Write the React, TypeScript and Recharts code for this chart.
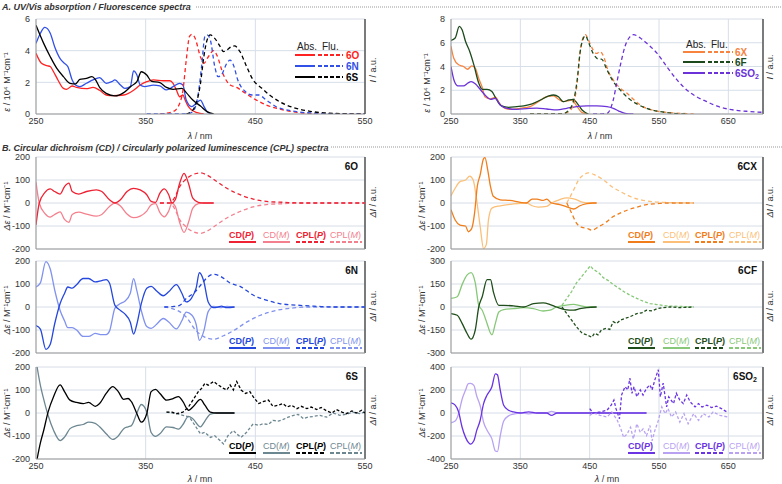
import React from 'react';
import { LineChart, Line, XAxis, YAxis, CartesianGrid, ReferenceLine } from 'recharts';

// ---------- A. UV/Vis absorption / fluorescence (left) ----------
const ABS_6O = [[250,3.83],[255,3.2],[260,3.05],[263,3.0],[266,2.67],[270,2.15],[275,1.62],[278,1.56],[283,1.77],[287,1.68],[296,1.6],[302,1.68],[308,1.5],[314,1.2],[320,1.16],[330,1.2],[339,1.5],[345,1.83],[351,2.04],[357,2.15],[366,2.1],[372,2.1],[375,1.94],[378,1.52],[381,1.09],[384,1.2],[386,0.88],[389,0.46],[392,0.25],[397,0.08],[403,0]];
const ABS_6N = [[250,4.46],[254,5.1],[258,5.47],[263,5.1],[267,4.25],[272,3.5],[276,3.2],[279,3.0],[283,2.15],[286,1.83],[290,1.73],[296,1.94],[302,2.15],[308,2.3],[314,1.94],[319,2.04],[322,2.15],[327,1.83],[331,1.62],[336,1.73],[339,2.72],[342,2.46],[345,1.83],[349,1.73],[357,1.83],[363,1.77],[369,1.52],[375,1.73],[381,1.94],[384,1.83],[387,0.88],[392,0.46],[396,0.67],[400,0.88],[403,0.5],[406,0.15],[410,0]];
const ABS_6S = [[250,5.6],[257,4.46],[263,3.62],[269,2.88],[275,2.36],[281,1.94],[286,1.9],[290,2.19],[296,2.25],[301,2.36],[304,2.19],[308,1.68],[314,1.3],[322,1.14],[330,1.35],[337,1.77],[342,2.04],[346,2.67],[351,2.46],[355,2.08],[363,1.98],[369,1.68],[375,1.56],[383,1.62],[387,1.35],[393,0.88],[400,0.5],[406,0.15],[412,0]];
const FLU_6O = [[363,0],[375,0.15],[381,0.67],[384,1.5],[387,3.4],[390,4.9],[392,5.03],[395,4.8],[400,3.6],[403,3.2],[407,3.6],[412,4.0],[415,3.7],[421,2.46],[427,1.83],[433,1.68],[439,1.4],[448,1.0],[460,0.57],[476,0.25],[491,0.08],[506,0.02],[550,0]];
const FLU_6N = [[351,0],[387,0],[393,0.15],[398,1.3],[401,3.0],[404,4.9],[406,5.0],[409,4.67],[413,3.0],[416,2.36],[419,2.46],[424,3.2],[427,3.4],[430,3.1],[434,2.15],[441,1.41],[447,1.2],[453,1.2],[460,0.88],[469,0.46],[482,0.21],[497,0.08],[521,0.02],[550,0]];
const FLU_6S = [[387,0],[393,0.25],[400,1.94],[403,3.6],[406,4.67],[409,5.0],[413,4.78],[418,4.25],[421,3.94],[424,4.04],[428,4.25],[431,4.3],[436,3.94],[442,3.0],[448,2.15],[456,1.62],[463,1.2],[472,0.78],[485,0.4],[500,0.17],[521,0.04],[550,0]];

// ---------- A. (right) ----------
const ABS_6X = [[250,5.7],[254,4.7],[261,4.14],[268,4.0],[274,3.77],[280,4.06],[285,3.86],[290,3.0],[295,2.25],[299,1.46],[307,1.27],[314,1.41],[320,0.9],[328,0.48],[338,0.39],[350,0.48],[364,0.62],[376,1.04],[388,1.46],[398,1.52],[405,1.24],[412,1.04],[420,1.13],[424,1.18],[432,0.62],[439,0.11],[448,0]];
const ABS_6F = [[250,6.2],[256,6.4],[262,7.38],[266,7.1],[271,6.1],[277,5.27],[283,4.14],[290,2.6],[295,2.08],[302,2.08],[309,1.89],[316,1.18],[323,0.68],[333,0.56],[345,0.62],[355,0.68],[367,0.85],[379,1.18],[391,1.52],[398,1.6],[405,1.46],[412,1.04],[420,1.18],[426,1.24],[432,0.9],[439,0.34],[448,0]];
const ABS_6SO2 = [[250,4.0],[255,2.73],[260,2.37],[268,2.37],[274,2.59],[279,2.73],[285,2.54],[292,2.08],[299,1.6],[307,1.24],[314,1.32],[321,0.76],[331,0.48],[345,0.39],[359,0.45],[374,0.5],[388,0.42],[403,0.34],[417,0.48],[431,0.62],[446,0.68],[460,0.68],[475,0.62],[484,0.48],[492,0.25],[501,0.06],[513,0]];
const FLU_6X = [[364,0],[408,0],[420,0.2],[427,0.9],[432,2.6],[436,5.1],[441,6.5],[444,6.68],[448,6.25],[455,5.4],[460,5.1],[465,5.27],[470,4.85],[477,3.58],[484,2.87],[494,2.17],[504,1.75],[513,1.24],[523,0.76],[532,0.48],[547,0.25],[566,0.11],[590,0.03],[600,0]];
const FLU_6F = [[364,0],[410,0],[420,0.34],[427,1.18],[432,2.87],[436,5.1],[441,6.4],[444,6.6],[448,6.1],[455,5.1],[463,4.62],[467,4.62],[475,3.72],[484,2.73],[494,2.03],[506,1.32],[518,0.85],[532,0.48],[552,0.2],[571,0.06],[590,0]];
const FLU_6SO2 = [[455,0],[475,0.06],[484,1.18],[489,2.6],[496,4.56],[501,5.7],[508,6.5],[513,6.68],[523,6.4],[532,5.97],[547,5.13],[561,4.0],[576,2.87],[590,2.03],[604,1.46],[619,1.04],[633,0.68],[652,0.39],[676,0.23],[700,0.14]];

// ---------- B. CD / CPL (left) ----------
const CD_6O_P = [[250,-95],[253,0],[258,45],[263,61],[267,50],[272,39],[276,71],[280,86],[283,50],[289,39],[296,50],[305,57],[310,50],[317,14],[322,0],[327,14],[333,50],[339,64],[345,57],[351,36],[355,7],[359,3],[363,43],[367,61],[371,36],[374,0],[377,14],[381,86],[385,129],[389,86],[393,21],[398,3],[403,0],[412,0]];
const CD_6O_M = [[250,90],[253,0],[258,-45],[263,-61],[267,-50],[272,-39],[276,-71],[280,-84],[283,-50],[289,-40],[296,-48],[305,-57],[310,-50],[317,-15],[322,0],[327,-13],[333,-48],[339,-64],[345,-57],[351,-35],[355,-8],[359,-3],[363,-42],[367,-60],[371,-35],[374,0],[377,-14],[381,-85],[385,-128],[389,-85],[393,-22],[398,-3],[403,0],[412,0]];
const CPL_6O_P = [[363,0],[372,0],[377,29],[381,71],[386,100],[392,121],[400,131],[406,121],[415,93],[424,64],[436,36],[448,17],[460,7],[476,3],[491,0],[550,0]];
const CPL_6O_M = [[363,0],[372,0],[377,-30],[381,-72],[386,-100],[392,-122],[400,-132],[406,-122],[415,-94],[424,-65],[436,-37],[448,-17],[460,-7],[476,-3],[491,0],[550,0]];

const CD_6N_P = [[250,-81],[254,-96],[259,-184],[263,-162],[267,-74],[272,15],[276,59],[279,87],[283,82],[287,97],[293,124],[298,124],[304,109],[310,115],[314,119],[317,104],[322,7],[327,-15],[331,-30],[336,-66],[339,-118],[342,-74],[346,15],[351,82],[355,90],[360,70],[366,49],[371,66],[378,97],[383,60],[387,22],[392,40],[396,82],[399,149],[403,112],[407,22],[412,-3],[416,0],[419,4],[424,-3],[431,0]];
const CD_6N_M = [[250,87],[254,105],[259,197],[263,165],[267,75],[272,-15],[276,-60],[279,-90],[283,-90],[287,-100],[293,-128],[298,-128],[304,-115],[310,-120],[314,-120],[317,-105],[322,-5],[327,15],[331,25],[336,60],[339,123],[342,70],[346,-15],[351,-85],[355,-93],[360,-75],[366,-50],[371,-65],[378,-95],[383,-60],[387,-22],[392,-35],[396,-75],[399,-145],[403,-105],[407,-20],[412,3],[416,0],[419,-3],[424,3],[431,0]];
const CPL_6N_P = [[367,0],[375,2],[381,7],[387,37],[395,66],[401,100],[406,128],[412,142],[418,134],[427,104],[436,90],[448,52],[460,30],[472,15],[491,7],[506,3],[521,0],[550,0]];
const CPL_6N_M = [[367,0],[375,-8],[381,-20],[387,-44],[396,-103],[403,-129],[412,-140],[421,-125],[430,-103],[442,-66],[454,-37],[469,-15],[485,-4],[500,0],[550,0]];

const CD_6S_P = [[251,-200],[254,-130],[257,-76],[261,4],[266,71],[272,122],[276,93],[281,56],[287,46],[293,41],[298,46],[304,29],[308,41],[314,85],[320,115],[325,93],[330,59],[334,63],[337,49],[342,-3],[346,-40],[351,-3],[355,93],[359,103],[363,85],[369,56],[375,63],[380,71],[384,49],[389,12],[393,26],[400,59],[404,34],[409,4],[415,0],[431,0]];
const CD_6S_M = [[251,200],[254,120],[257,60],[261,-10],[266,-75],[272,-120],[276,-105],[281,-68],[287,-55],[293,-50],[298,-40],[304,-45],[308,-60],[314,-90],[320,-115],[325,-100],[330,-68],[334,-60],[337,-55],[342,0],[346,37],[351,5],[355,-85],[359,-102],[363,-90],[369,-60],[375,-63],[380,-70],[384,-50],[389,-15],[393,-25],[400,-60],[404,-35],[409,-5],[415,0],[431,0]];
const CPL_6S_P = [[369,4],[374,4],[378,-3],[384,4],[389,26],[393,56],[398,93],[401,107],[404,129],[407,121],[412,137],[416,122],[421,107],[424,100],[427,122],[430,100],[433,137],[437,100],[441,85],[445,93],[448,71],[453,41],[457,49],[462,56],[466,29],[471,34],[475,41],[479,26],[483,34],[488,19],[492,29],[497,19],[501,26],[506,15],[510,24],[515,9],[520,0],[524,15],[529,4],[533,-3],[538,9],[542,0],[547,12],[550,0]];
const CPL_6S_M = [[369,4],[378,-3],[384,-10],[390,-18],[396,-62],[400,-91],[404,-84],[409,-106],[413,-99],[418,-121],[421,-135],[425,-99],[430,-76],[433,-91],[437,-106],[442,-84],[448,-47],[453,-54],[457,-47],[462,-50],[466,-32],[471,-35],[475,-29],[480,-18],[485,-10],[489,-6],[494,-25],[498,-18],[503,-15],[509,-10],[515,-18],[521,0],[527,-10],[533,-6],[539,4],[545,-3],[550,4]];

// ---------- B. (right) ----------
const CD_6CX_P = [[250,-29],[256,-74],[263,-96],[271,-100],[275,-125],[280,-110],[284,-44],[288,74],[292,121],[297,193],[299,197],[303,143],[307,71],[311,29],[321,14],[335,11],[350,3],[359,0],[367,17],[374,17],[383,11],[388,17],[395,0],[407,-7],[417,-17],[427,-26],[436,-12],[446,-3],[455,0],[460,0]];
const CD_6CX_M = [[250,31],[256,64],[263,93],[271,100],[277,117],[282,100],[287,14],[292,-100],[297,-198],[301,-180],[304,-74],[309,-22],[321,-12],[340,-4],[359,0],[367,-12],[376,-18],[388,-15],[395,0],[407,15],[417,22],[427,18],[441,3],[451,0],[460,0]];
const CPL_6CX_P = [[417,0],[424,-44],[431,-88],[439,-106],[446,-110],[453,-118],[463,-103],[475,-81],[484,-59],[494,-44],[506,-29],[518,-18],[532,-7],[547,-3],[561,0],[600,0]];
const CPL_6CX_M = [[417,0],[427,57],[434,100],[441,121],[448,131],[458,121],[470,100],[482,71],[494,50],[508,29],[523,14],[537,7],[556,3],[600,0]];

const CD_6CF_P = [[250,-43],[259,-54],[266,-107],[273,-171],[279,-210],[285,-150],[290,0],[295,67],[302,179],[307,179],[311,101],[319,11],[326,11],[340,7],[355,0],[369,22],[383,27],[393,16],[402,0],[414,-17],[427,-21],[436,-11],[446,-4],[460,0]];
const CD_6CF_M = [[250,56],[259,67],[266,146],[273,208],[279,224],[285,157],[290,11],[295,-21],[302,-107],[307,-171],[309,-182],[314,-107],[319,-32],[326,-17],[340,-11],[355,-4],[369,-11],[383,-26],[393,-21],[402,0],[414,11],[427,17],[436,9],[446,0],[460,0]];
const CPL_6CF_P = [[410,0],[417,-43],[424,-86],[431,-129],[439,-171],[446,-182],[453,-197],[457,-171],[462,-182],[467,-150],[474,-139],[479,-146],[484,-96],[489,-107],[494,-86],[501,-75],[508,-64],[518,-43],[525,-39],[532,-21],[540,-26],[547,-11],[556,-4],[566,0],[580,-4],[600,0]];
const CPL_6CF_M = [[410,11],[417,56],[424,101],[431,157],[439,201],[445,235],[451,269],[455,246],[463,224],[470,190],[477,172],[484,146],[492,123],[499,101],[508,78],[518,56],[527,38],[537,22],[547,16],[561,7],[580,4],[600,0]];

const CD_6SO2_P = [[250,88],[256,68],[261,9],[266,-124],[271,-212],[275,-256],[278,-270],[283,-241],[287,-153],[292,-65],[297,82],[302,156],[309,229],[314,341],[317,332],[321,200],[326,68],[333,24],[340,9],[350,0],[362,9],[374,0],[388,0],[395,-21],[403,0],[417,0],[532,0]];
const CD_6SO2_M = [[250,-85],[256,-70],[261,-5],[266,120],[271,200],[275,255],[278,258],[283,240],[287,150],[292,65],[297,-80],[302,-150],[309,-225],[314,-330],[317,-335],[321,-200],[326,-70],[333,-25],[340,-10],[350,0],[362,-8],[374,0],[388,0],[395,15],[403,0],[417,0],[532,0]];
const CPL_6SO2_P = [[450,38],[455,0],[465,9],[475,24],[481,68],[485,112],[488,38],[493,-50],[496,156],[501,229],[505,200],[508,303],[511,171],[514,229],[518,141],[523,200],[527,156],[532,215],[537,244],[540,200],[544,288],[549,376],[552,141],[556,259],[561,53],[564,141],[571,82],[575,171],[580,112],[585,82],[590,156],[595,97],[602,53],[607,82],[612,53],[619,68],[626,47],[633,59],[640,38],[648,9],[650,9]];
const CPL_6SO2_M = [[450,-21],[455,0],[465,-21],[475,-35],[482,9],[490,-65],[495,-138],[499,-212],[504,-182],[509,-124],[513,-226],[518,-94],[523,-168],[527,-138],[532,-197],[537,-109],[540,-241],[544,-153],[549,-65],[554,53],[559,-6],[563,38],[568,-35],[574,9],[580,-79],[586,-6],[592,-94],[600,-6],[607,-65],[614,-6],[622,-35],[628,9],[638,-21],[650,-35]];

// ---------- axis ticks ----------
const X_TICKS_L = [250, 350, 450, 550];
const X_TICKS_R = [250, 350, 450, 550, 650];
const Y_TICKS_ABS_L = [0, 2, 4, 6];
const Y_TICKS_ABS_R = [0, 2, 4, 6, 8];
const Y_TICKS_200 = [-200, -100, 0, 100, 200];
const Y_TICKS_300 = [-300, -150, 0, 150, 300];
const Y_TICKS_400 = [-400, -200, 0, 200, 400];

const FONT = '"Liberation Sans", Arial, sans-serif';
const pts = (a: number[][]) => a.map(([x, y]) => ({ x, y }));

type S = { data: number[][]; color: string; dash?: boolean; noisy?: boolean; w?: number };

function Panel(p: {
  x0: number; y0: number; pw: number; ph: number; xd: number[]; xt: number[];
  yd: number[]; yt: number[]; showX?: boolean; series: S[];
}) {
  const L = 40, T = 6, R = 14;
  const XH = p.showX ? 16 : 6;
  return (
    <div style={{ position: 'absolute', left: p.x0 - L, top: p.y0 - T }}>
      <LineChart width={L + p.pw + R} height={T + p.ph + XH} margin={{ top: T, right: R, left: 0, bottom: 0 }}>
        <CartesianGrid stroke="#d6dee8" strokeWidth={1} />
        <XAxis type="number" dataKey="x" domain={p.xd} ticks={p.xt} allowDataOverflow interval={0}
          height={XH} tick={p.showX ? { fontSize: 9, fill: '#333' } : false} tickLine={false}
          tickSize={2} axisLine={{ stroke: '#999' }} />
        <YAxis type="number" domain={p.yd} ticks={p.yt} allowDataOverflow interval={0} width={L}
          tick={{ fontSize: 9, fill: '#333' }} tickLine={false} tickSize={2} tickMargin={4}
          axisLine={{ stroke: '#999' }} />
        <ReferenceLine x={p.xd[1]} stroke="#555" strokeWidth={1.5} />
        {p.series.map((s, i) => (
          <Line key={i} data={pts(s.data)} dataKey="y" type={s.noisy ? 'linear' : 'monotone'}
            stroke={s.color} strokeWidth={s.w ?? 1.3}
            strokeDasharray={s.dash ? (s.noisy ? '3 2' : '4 3') : undefined}
            dot={false} activeDot={false} isAnimationActive={false} />
        ))}
      </LineChart>
    </div>
  );
}

const C = {
  o: '#ee2233', oL: '#f4808e',
  n: '#2447dd', nL: '#8092ee',
  s: '#000000', sL: '#6d8791',
  x: '#f07d1a', xL: '#fbbf78',
  f: '#1f4e1a', fL: '#86c878',
  so: '#6a33e4', soL: '#b9a2f2',
  tx: '#f7833f', tf: '#1d4a1d', tso: '#6a32d8',
  to: '#ff2222', tn: '#3050e8',
};

function Legend4(props: { x: number[]; y: number; c1: string; c2: string }) {
  const { x, y, c1, c2 } = props;
  const lens = [27, 27, 30, 32];
  return (
    <g fontSize={9}>
      <text x={x[0]} y={y} fill={c1} fontWeight="bold">CD(<tspan fontStyle="italic">P</tspan>)</text>
      <text x={x[1]} y={y} fill={c2}>CD(<tspan fontStyle="italic">M</tspan>)</text>
      <text x={x[2]} y={y} fill={c1} fontWeight="bold">CPL(<tspan fontStyle="italic">P</tspan>)</text>
      <text x={x[3]} y={y} fill={c2}>CPL(<tspan fontStyle="italic">M</tspan>)</text>
      <line x1={x[0]} x2={x[0] + lens[0]} y1={y + 4} y2={y + 4} stroke={c1} strokeWidth={2} />
      <line x1={x[1]} x2={x[1] + lens[1]} y1={y + 4} y2={y + 4} stroke={c2} strokeWidth={2} />
      <line x1={x[2]} x2={x[2] + lens[2]} y1={y + 4} y2={y + 4} stroke={c1} strokeWidth={2} strokeDasharray="4 2" />
      <line x1={x[3]} x2={x[3] + lens[3]} y1={y + 4} y2={y + 4} stroke={c2} strokeWidth={2} strokeDasharray="4 2" />
    </g>
  );
}

function YLab(props: { x: number; y: number; children: React.ReactNode }) {
  return (
    <text x={props.x} y={props.y} transform={`rotate(-90 ${props.x} ${props.y})`} textAnchor="middle" fontSize={9} fill="#333">
      {props.children}
    </text>
  );
}

export default function App() {
  const LX = [229, 263, 296, 330];
  const RX = [628, 663, 695, 729];
  return (
    <div style={{ position: 'absolute', left: 0, top: 0, width: 782, height: 484, background: '#fff', fontFamily: FONT, overflow: 'hidden' }}>
      <Panel x0={36} y0={19} pw={329} ph={95} xd={[250, 550]} xt={X_TICKS_L} yd={[0, 6]} yt={Y_TICKS_ABS_L} showX
        series={[
          { data: ABS_6O, color: C.to }, { data: ABS_6N, color: C.tn }, { data: ABS_6S, color: C.s },
          { data: FLU_6O, color: C.to, dash: true }, { data: FLU_6N, color: C.tn, dash: true }, { data: FLU_6S, color: C.s, dash: true },
        ]} />
      <Panel x0={451} y0={19} pw={312} ph={95} xd={[250, 700]} xt={X_TICKS_R} yd={[0, 8]} yt={Y_TICKS_ABS_R} showX
        series={[
          { data: ABS_6X, color: C.tx }, { data: ABS_6F, color: C.tf }, { data: ABS_6SO2, color: C.tso },
          { data: FLU_6X, color: C.tx, dash: true }, { data: FLU_6F, color: C.tf, dash: true }, { data: FLU_6SO2, color: C.tso, dash: true },
        ]} />

      <Panel x0={36} y0={157} pw={329} ph={92} xd={[250, 550]} xt={X_TICKS_L} yd={[-200, 200]} yt={Y_TICKS_200}
        series={[
          { data: CD_6O_M, color: C.oL }, { data: CD_6O_P, color: C.o },
          { data: CPL_6O_M, color: C.oL, dash: true }, { data: CPL_6O_P, color: C.o, dash: true },
        ]} />
      <Panel x0={36} y0={261} pw={329} ph={92} xd={[250, 550]} xt={X_TICKS_L} yd={[-200, 200]} yt={Y_TICKS_200}
        series={[
          { data: CD_6N_M, color: C.nL }, { data: CD_6N_P, color: C.n },
          { data: CPL_6N_M, color: C.nL, dash: true }, { data: CPL_6N_P, color: C.n, dash: true },
        ]} />
      <Panel x0={36} y0={367} pw={329} ph={92} xd={[250, 550]} xt={X_TICKS_L} yd={[-200, 200]} yt={Y_TICKS_200} showX
        series={[
          { data: CD_6S_M, color: C.sL }, { data: CD_6S_P, color: C.s },
          { data: CPL_6S_M, color: C.sL, dash: true, noisy: true }, { data: CPL_6S_P, color: C.s, dash: true, noisy: true },
        ]} />

      <Panel x0={451} y0={157} pw={312} ph={92} xd={[250, 700]} xt={X_TICKS_R} yd={[-200, 200]} yt={Y_TICKS_200}
        series={[
          { data: CD_6CX_M, color: C.xL }, { data: CD_6CX_P, color: C.x },
          { data: CPL_6CX_M, color: C.xL, dash: true }, { data: CPL_6CX_P, color: C.x, dash: true },
        ]} />
      <Panel x0={451} y0={261} pw={312} ph={92} xd={[250, 700]} xt={X_TICKS_R} yd={[-300, 300]} yt={Y_TICKS_300}
        series={[
          { data: CD_6CF_M, color: C.fL }, { data: CD_6CF_P, color: C.f },
          { data: CPL_6CF_M, color: C.fL, dash: true, noisy: true }, { data: CPL_6CF_P, color: C.f, dash: true, noisy: true },
        ]} />
      <Panel x0={451} y0={367} pw={312} ph={92} xd={[250, 700]} xt={X_TICKS_R} yd={[-400, 400]} yt={Y_TICKS_400} showX
        series={[
          { data: CD_6SO2_M, color: C.soL }, { data: CD_6SO2_P, color: C.so },
          { data: CPL_6SO2_M, color: C.soL, dash: true, noisy: true }, { data: CPL_6SO2_P, color: C.so, dash: true, noisy: true },
        ]} />

      <svg width={782} height={484} style={{ position: 'absolute', left: 0, top: 0, pointerEvents: 'none' }} fontFamily={FONT}>
        {/* section headers */}
        <text x={2} y={10} fontSize={9} fontWeight="bold" fontStyle="italic" fill="#333">A. UV/Vis absorption / Fluorescence spectra</text>
        <line x1={196} x2={782} y1={7} y2={7} stroke="#999" strokeDasharray="1 1" />
        <text x={2} y={151} fontSize={9} fontWeight="bold" fontStyle="italic" fill="#333">B. Circular dichroism (CD) / Circularly polarized luminescence (CPL) spectra</text>
        <line x1={331} x2={782} y1={147} y2={147} stroke="#999" strokeDasharray="1 1" />

        {/* axis titles */}
        <text x={200} y={139} fontSize={9} textAnchor="middle" fill="#333"><tspan fontStyle="italic">λ</tspan> / nm</text>
        <text x={600} y={139} fontSize={9} textAnchor="middle" fill="#333"><tspan fontStyle="italic">λ</tspan> / nm</text>
        <text x={200} y={482} fontSize={9} textAnchor="middle" fill="#333"><tspan fontStyle="italic">λ</tspan> / mn</text>
        <text x={607} y={482} fontSize={9} textAnchor="middle" fill="#333"><tspan fontStyle="italic">λ</tspan> / mn</text>

        <YLab x={10} y={82}><tspan fontStyle="italic">ε</tspan> / 10⁴ M⁻¹cm⁻¹</YLab>
        <YLab x={376} y={70}><tspan fontStyle="italic">I</tspan> / a.u.</YLab>
        <YLab x={430} y={83}><tspan fontStyle="italic">ε</tspan> / 10⁴ M⁻¹cm⁻¹</YLab>
        <YLab x={773} y={67}><tspan fontStyle="italic">I</tspan> / a.u.</YLab>

        <YLab x={10} y={206}><tspan fontStyle="italic">Δε</tspan> / M⁻¹cm⁻¹</YLab>
        <YLab x={10} y={310}><tspan fontStyle="italic">Δε</tspan> / M⁻¹cm⁻¹</YLab>
        <YLab x={10} y={413}><tspan fontStyle="italic">Δε</tspan> / M⁻¹cm⁻¹</YLab>
        <YLab x={376} y={202}><tspan fontStyle="italic">ΔI</tspan> / a.u.</YLab>
        <YLab x={376} y={306}><tspan fontStyle="italic">ΔI</tspan> / a.u.</YLab>
        <YLab x={376} y={410}><tspan fontStyle="italic">ΔI</tspan> / a.u.</YLab>

        <YLab x={425} y={206}><tspan fontStyle="italic">Δε</tspan> / M⁻¹cm⁻¹</YLab>
        <YLab x={425} y={310}><tspan fontStyle="italic">Δε</tspan> / M⁻¹cm⁻¹</YLab>
        <YLab x={425} y={413}><tspan fontStyle="italic">Δε</tspan> / M⁻¹cm⁻¹</YLab>
        <YLab x={773} y={202}><tspan fontStyle="italic">ΔI</tspan> / a.u.</YLab>
        <YLab x={773} y={306}><tspan fontStyle="italic">ΔI</tspan> / a.u.</YLab>
        <YLab x={773} y={410}><tspan fontStyle="italic">ΔI</tspan> / a.u.</YLab>

        {/* top-left legend */}
        <text x={297} y={50} fontSize={10} fill="#222">Abs.</text>
        <text x={322} y={50} fontSize={10} fill="#222">Flu.</text>
        {[[55, C.to, '6O'], [66, C.tn, '6N'], [77, '#000', '6S']].map(([y, c, t]) => (
          <g key={t as string}>
            <line x1={295} x2={315} y1={y as number} y2={y as number} stroke={c as string} strokeWidth={2} />
            <line x1={318} x2={343} y1={y as number} y2={y as number} stroke={c as string} strokeWidth={2} strokeDasharray="4 2" />
            <text x={346} y={(y as number) + 3.5} fontSize={10} fontWeight="bold" fill={c as string}>{t as string}</text>
          </g>
        ))}
        {/* top-right legend */}
        <text x={686} y={48} fontSize={10} fill="#222">Abs.</text>
        <text x={711} y={48} fontSize={10} fill="#222">Flu.</text>
        {[[52, C.tx, '6X'], [62, C.tf, '6F'], [73, C.tso, '6SO']].map(([y, c, t]) => (
          <g key={t as string}>
            <line x1={683} x2={705} y1={y as number} y2={y as number} stroke={c as string} strokeWidth={2} />
            <line x1={708} x2={733} y1={y as number} y2={y as number} stroke={c as string} strokeWidth={2} strokeDasharray="4 2" />
            <text x={735} y={(y as number) + 3.5} fontSize={10} fontWeight="bold" fill={c as string}>{t as string}{t === '6SO' ? <tspan fontSize={7} dy={2}>2</tspan> : null}</text>
          </g>
        ))}

        {/* panel names */}
        <text x={358} y={170} fontSize={10} fontWeight="bold" textAnchor="end" fill="#111">6O</text>
        <text x={358} y={274} fontSize={10} fontWeight="bold" textAnchor="end" fill="#111">6N</text>
        <text x={358} y={380} fontSize={10} fontWeight="bold" textAnchor="end" fill="#111">6S</text>
        <text x={757} y={170} fontSize={10} fontWeight="bold" textAnchor="end" fill="#111">6CX</text>
        <text x={757} y={274} fontSize={10} fontWeight="bold" textAnchor="end" fill="#111">6CF</text>
        <text x={757} y={380} fontSize={10} fontWeight="bold" textAnchor="end" fill="#111">6SO<tspan fontSize={7} dy={2}>2</tspan></text>

        {/* CD/CPL legends */}
        <Legend4 x={LX} y={238} c1={C.o} c2={C.oL} />
        <Legend4 x={LX} y={344} c1={C.n} c2={C.nL} />
        <Legend4 x={LX} y={449} c1={C.s} c2={C.sL} />
        <Legend4 x={RX} y={238} c1={C.x} c2={C.xL} />
        <Legend4 x={RX} y={344} c1={C.f} c2={C.fL} />
        <Legend4 x={RX} y={449} c1={C.so} c2={C.soL} />
      </svg>
    </div>
  );
}
